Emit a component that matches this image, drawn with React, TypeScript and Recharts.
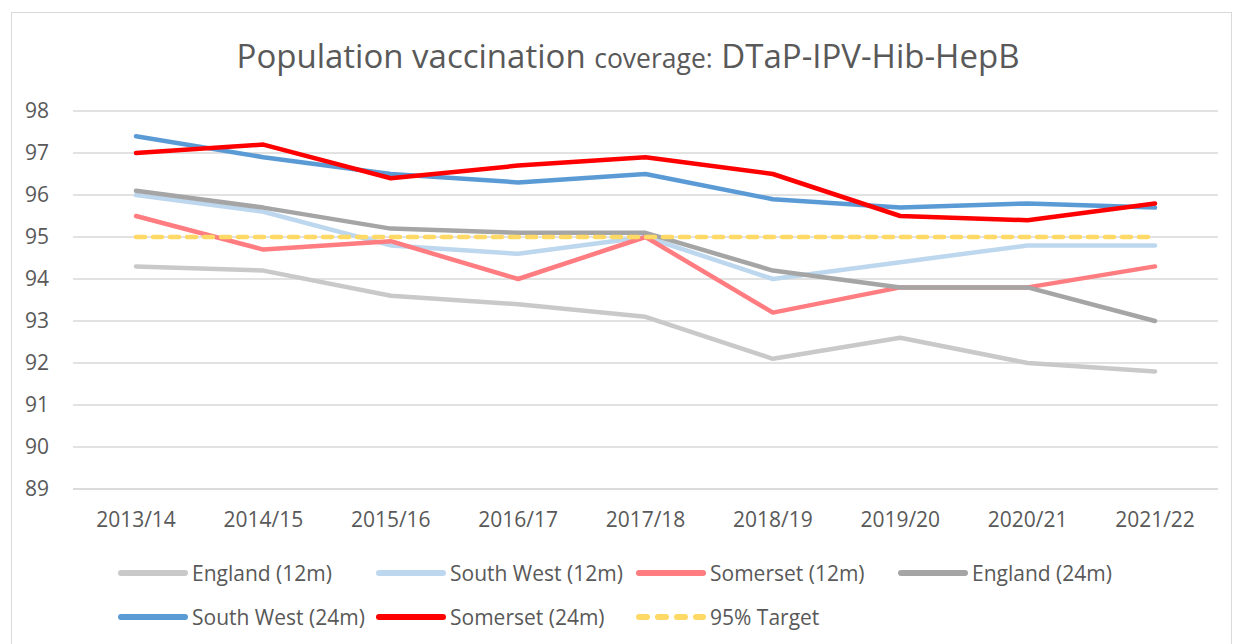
import React from "react";
import { LineChart, Line, XAxis, YAxis, CartesianGrid } from "recharts";

const categories = ["2013/14", "2014/15", "2015/16", "2016/17", "2017/18", "2018/19", "2019/20", "2020/21", "2021/22"];
const england12 = [94.3, 94.2, 93.6, 93.4, 93.1, 92.1, 92.6, 92.0, 91.8];
const southWest12 = [96.0, 95.6, 94.8, 94.6, 95.0, 94.0, 94.4, 94.8, 94.8];
const somerset12 = [95.5, 94.7, 94.9, 94.0, 95.0, 93.2, 93.8, 93.8, 94.3];
const england24 = [96.1, 95.7, 95.2, 95.1, 95.1, 94.2, 93.8, 93.8, 93.0];
const southWest24 = [97.4, 96.9, 96.5, 96.3, 96.5, 95.9, 95.7, 95.8, 95.7];
const somerset24 = [97.0, 97.2, 96.4, 96.7, 96.9, 96.5, 95.5, 95.4, 95.8];
const target = [95, 95, 95, 95, 95, 95, 95, 95, 95];
const yTicks = [89, 90, 91, 92, 93, 94, 95, 96, 97, 98];

const series = [
  { key: "e12", name: "England (12m)", values: england12, color: "#C9C9C9", width: 4.5, dash: undefined as string | undefined },
  { key: "sw12", name: "South West (12m)", values: southWest12, color: "#BDD7EE", width: 4.5, dash: undefined },
  { key: "so12", name: "Somerset (12m)", values: somerset12, color: "#FF7C80", width: 4.5, dash: undefined },
  { key: "e24", name: "England (24m)", values: england24, color: "#A5A5A5", width: 4.5, dash: undefined },
  { key: "sw24", name: "South West (24m)", values: southWest24, color: "#5B9BD5", width: 4.5, dash: undefined },
  { key: "so24", name: "Somerset (24m)", values: somerset24, color: "#FF0000", width: 4.5, dash: undefined },
  { key: "tgt", name: "95% Target", values: target, color: "#FFD966", width: 4.5, dash: "9 8" },
];

const data = categories.map((c, i) => {
  const row: Record<string, number | string> = { cat: c };
  series.forEach((s) => (row[s.key] = s.values[i]));
  return row;
});

const FONT = "'Open Sans', sans-serif";
const TXT = "#595959";

export default function App() {
  return (
    <div style={{ position: "absolute", left: 0, top: 0, width: 1234, height: 644, background: "#fff", fontFamily: FONT, overflow: "hidden" }}>
      <div style={{ position: "absolute", left: 11, top: 12, width: 1221, height: 640, border: "1px solid #D9D9D9", boxSizing: "border-box" }} />
      <div style={{ position: "absolute", left: 0, top: 35, width: 1256, textAlign: "center", color: TXT, whiteSpace: "nowrap", lineHeight: "42px" }}>
        <span style={{ fontSize: 33 }}>Population vaccination </span>
        <span style={{ fontSize: 26.5 }}>coverage:</span>
        <span style={{ fontSize: 33 }}> DTaP-IPV-Hib-HepB</span>
      </div>
      <div style={{ position: "absolute", left: 0, top: 0 }}>
        <LineChart width={1234} height={644} data={data} margin={{ top: 111, right: 16, bottom: 115, left: 13 }}>
          <CartesianGrid vertical={false} stroke="#D9D9D9" strokeWidth={1.5} />
          <XAxis
            dataKey="cat"
            tickLine={false}
            axisLine={{ stroke: "#D9D9D9", strokeWidth: 1.5 }}
            tick={{ fill: TXT, fontSize: 21, fontFamily: FONT }}
            tickMargin={17}
            height={40}
            interval={0}
            padding={{ left: 63, right: 63 }}
          />
          <YAxis
            domain={[89, 98]}
            ticks={yTicks}
            tickLine={false}
            axisLine={false}
            width={60}
            tick={{ fill: TXT, fontSize: 21, fontFamily: FONT }}
            tickMargin={18}
            interval={0}
          />
          {series.map((s) => (
            <Line
              key={s.key}
              dataKey={s.key}
              name={s.name}
              stroke={s.color}
              strokeWidth={s.width}
              strokeDasharray={s.dash}
              strokeLinecap="round"
              strokeLinejoin="round"
              dot={false}
              activeDot={false}
              isAnimationActive={false}
              type="linear"
            />
          ))}
        </LineChart>
      </div>
      <div style={{ position: "absolute", left: 118, top: 558, display: "grid", gridTemplateColumns: "258px 260px 262px 260px", rowGap: 14 }}>
        {series.map((s) => (
          <div key={s.key} style={{ display: "flex", alignItems: "center", height: 30, color: TXT, fontSize: 21, whiteSpace: "nowrap" }}>
            <svg width={70} height={10} style={{ marginRight: 4 }}>
              <line x1={3} y1={5} x2={67} y2={5} stroke={s.color} strokeWidth={6} strokeLinecap="round" strokeDasharray={s.dash ? "8 11" : undefined} />
            </svg>
            <span>{s.name}</span>
          </div>
        ))}
      </div>
    </div>
  );
}
